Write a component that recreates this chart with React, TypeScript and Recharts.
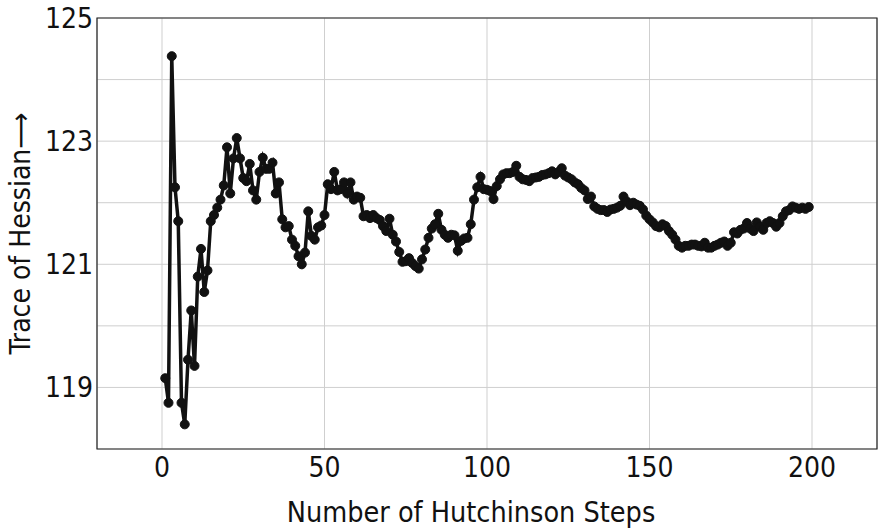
import React from "react"
import {
    LineChart,
    Line,
    XAxis,
    YAxis,
    CartesianGrid,
    ReferenceArea,
    Label,
} from "recharts"

// trace estimate after each Hutchinson step
const traceValues = [
    119.15, 118.75, 124.38, 122.25, 121.7, 118.75, 118.4, 119.45, 120.25, 119.35,
    120.8, 121.25, 120.55, 120.9, 121.7, 121.8, 121.92, 122.05, 122.28, 122.9,
    122.15, 122.72, 123.05, 122.72, 122.4, 122.35, 122.63, 122.2, 122.05, 122.5,
    122.73, 122.55, 122.55, 122.65, 122.15, 122.33, 121.73, 121.6, 121.62, 121.4,
    121.3, 121.13, 121.0, 121.19, 121.86, 121.46, 121.4, 121.6, 121.63, 121.8,
    122.3, 122.22, 122.5, 122.2, 122.22, 122.33, 122.15, 122.33, 122.05, 122.1,
    122.08, 121.78, 121.8, 121.75, 121.8, 121.75, 121.72, 121.62, 121.54, 121.74,
    121.48, 121.37, 121.2, 121.04, 121.05, 121.1, 121.02, 120.97, 120.93, 121.08,
    121.24, 121.43, 121.58, 121.65, 121.82, 121.56, 121.48, 121.43, 121.48, 121.47,
    121.22, 121.38, 121.42, 121.43, 121.65, 122.05, 122.25, 122.42, 122.22, 122.21,
    122.19, 122.06, 122.27, 122.38, 122.46, 122.48, 122.48, 122.5, 122.6, 122.42,
    122.38, 122.37, 122.35, 122.4, 122.41, 122.42, 122.45, 122.46, 122.48, 122.51,
    122.46, 122.5, 122.56, 122.44, 122.41, 122.38, 122.33, 122.3, 122.24, 122.2,
    122.06, 122.1, 121.94, 121.9, 121.88, 121.88, 121.85, 121.89, 121.9, 121.92,
    121.95, 122.1, 122.02, 121.96, 122.0, 121.97, 121.95, 121.89, 121.79, 121.73,
    121.68, 121.62, 121.6, 121.65, 121.62, 121.54, 121.48, 121.4, 121.3, 121.27,
    121.3, 121.3, 121.32, 121.32, 121.3, 121.29, 121.35, 121.27, 121.27, 121.3,
    121.32, 121.35, 121.37, 121.3, 121.35, 121.52, 121.5, 121.56, 121.58, 121.67,
    121.58, 121.54, 121.68, 121.61, 121.56, 121.67, 121.7, 121.67, 121.61, 121.67,
    121.78, 121.86, 121.88, 121.94, 121.92, 121.9, 121.92, 121.9, 121.93,
]

const xTicks = [0, 50, 100, 150, 200]
const yTicks = [118, 119, 120, 121, 122, 123, 124, 125]
const yLabelled = [119, 121, 123, 125]

const data = traceValues.map((v, i) => ({ step: i + 1, trace: v }))

const FONT = "'DejaVu Sans Condensed', 'Liberation Sans Narrow', 'DejaVu Sans', sans-serif"

export default function App() {
    return (
        <div style={{ position: "absolute", left: 0, top: 0, background: "#fff" }}>
            <LineChart
                width={886}
                height={532}
                data={data}
                margin={{ top: 18, right: 9, left: 0, bottom: 0 }}
                style={{ fontFamily: FONT }}
            >
                <CartesianGrid stroke="#cfcfcf" strokeWidth={1} />
                <XAxis
                    dataKey="step"
                    type="number"
                    domain={[-20, 220]}
                    ticks={xTicks}
                    height={83}
                    tickLine={false}
                    axisLine={false}
                    tickSize={2}
                    tickMargin={6}
                    tick={{ fill: "#111", fontSize: 28 }}
                >
                    <Label
                        value="Number of Hutchinson Steps"
                        position="insideBottom"
                        offset={10}
                        dx={-16}
                        style={{ fill: "#111", fontSize: 28.5 }}
                    />
                </XAxis>
                <YAxis
                    type="number"
                    domain={[118, 125]}
                    ticks={yTicks}
                    width={97}
                    tickLine={false}
                    axisLine={false}
                    tickSize={2}
                    tickMargin={2}
                    tick={{ fill: "#111", fontSize: 28 }}
                    tickFormatter={(v: number) => (yLabelled.includes(v) ? String(v) : "")}
                >
                    <Label
                        value="Trace of Hessian⟶"
                        angle={-90}
                        position="insideLeft"
                        offset={20}
                        style={{ fill: "#111", fontSize: 28, textAnchor: "middle" }}
                    />
                </YAxis>
                <ReferenceArea
                    x1={-20}
                    x2={220}
                    y1={118}
                    y2={125}
                    fill="none"
                    stroke="#222"
                    strokeWidth={1.2}
                    ifOverflow="visible"
                />
                <Line
                    dataKey="trace"
                    stroke="#111"
                    strokeWidth={3.5}
                    dot={{ r: 4.5, fill: "#111", stroke: "#111", strokeWidth: 1 }}
                    isAnimationActive={false}
                />
            </LineChart>
        </div>
    )
}
